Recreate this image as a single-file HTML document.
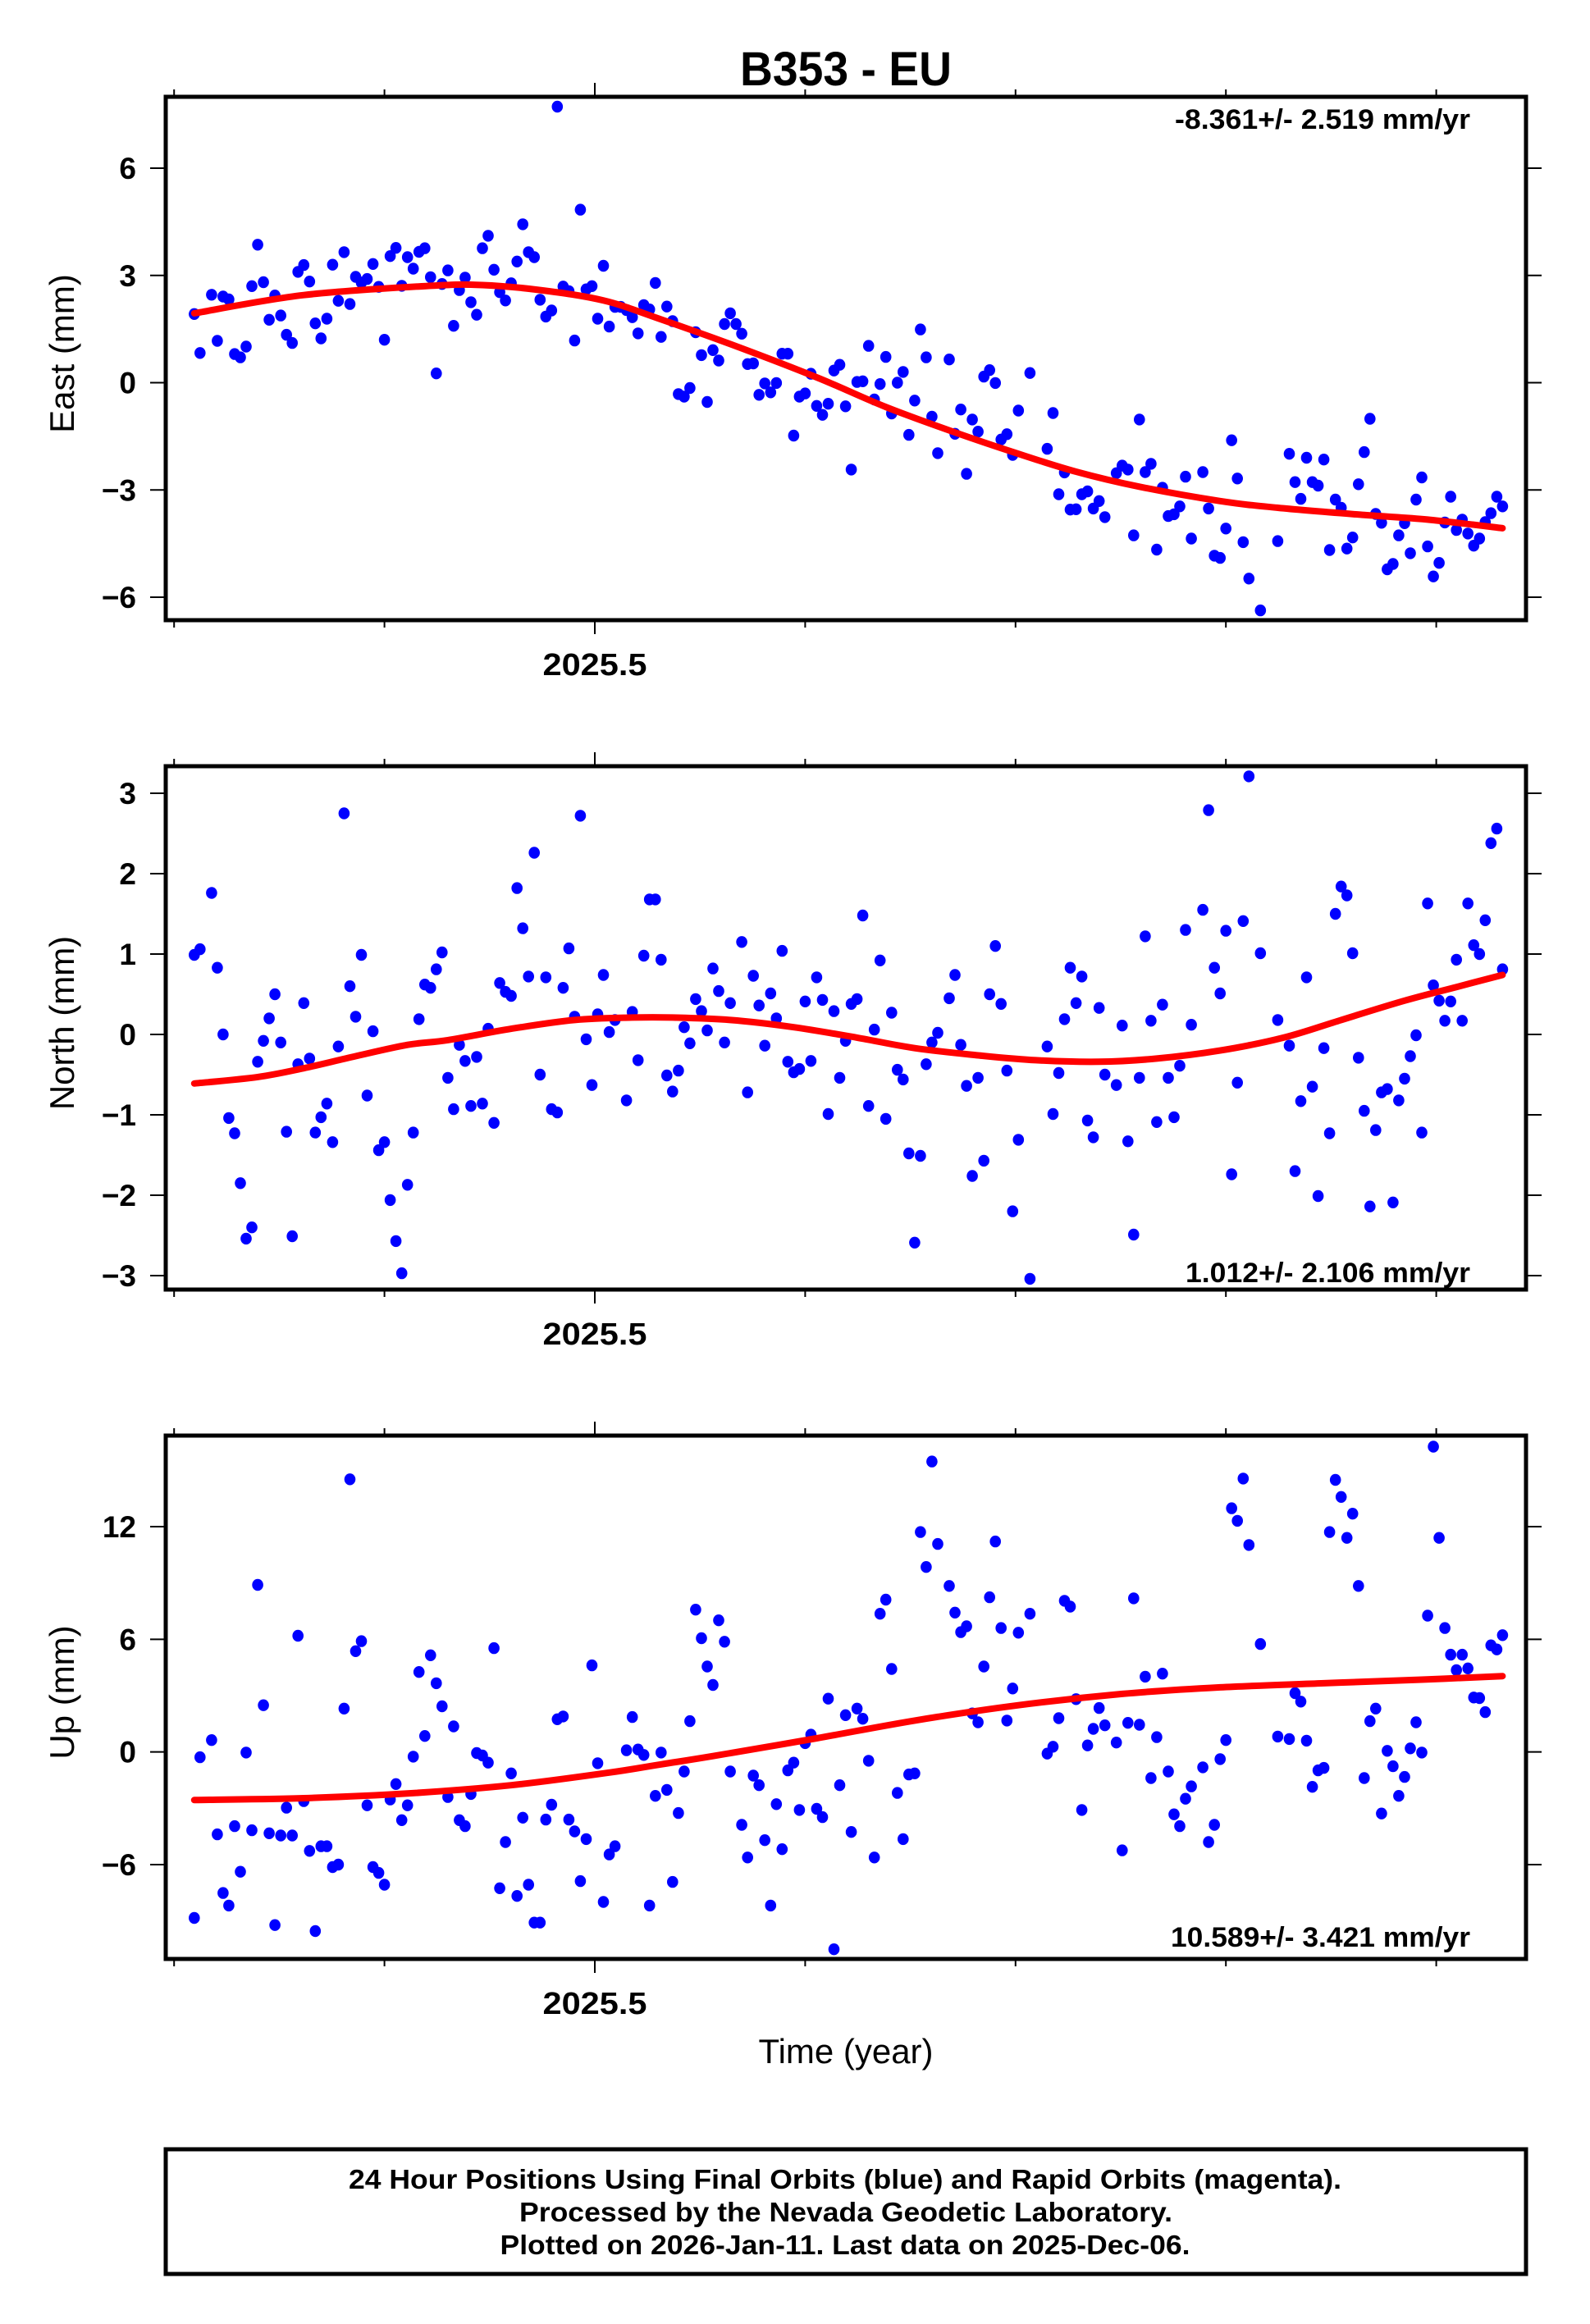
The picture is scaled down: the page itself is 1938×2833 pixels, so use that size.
<!DOCTYPE html>
<html><head><meta charset="utf-8"><title>B353 - EU</title>
<style>
html,body{margin:0;padding:0;background:#fff;}
svg{display:block;font-family:"Liberation Sans",Arial,sans-serif;}
</style></head>
<body>
<svg id="chart" width="1938" height="2833" viewBox="0 0 1938 2833" xmlns="http://www.w3.org/2000/svg">
<rect width="1938" height="2833" fill="#fff"/>
<text x="1031" y="104" text-anchor="middle" font-weight="bold" font-size="58" textLength="258" lengthAdjust="spacingAndGlyphs">B353 - EU</text>
<g id="panels"></g>
<text x="1031" y="2515" text-anchor="middle" font-size="42" textLength="213" lengthAdjust="spacingAndGlyphs">Time (year)</text>
<rect x="202" y="2620" width="1658" height="152" fill="none" stroke="#000" stroke-width="5"/>
<text x="1030" y="2668" text-anchor="middle" font-weight="bold" font-size="33" textLength="1210" lengthAdjust="spacingAndGlyphs">24 Hour Positions Using Final Orbits (blue) and Rapid Orbits (magenta).</text>
<text x="1031" y="2708" text-anchor="middle" font-weight="bold" font-size="33" textLength="796" lengthAdjust="spacingAndGlyphs">Processed by the Nevada Geodetic Laboratory.</text>
<text x="1030" y="2748" text-anchor="middle" font-weight="bold" font-size="33" textLength="841" lengthAdjust="spacingAndGlyphs">Plotted on 2026-Jan-11. Last data on 2025-Dec-06.</text>
</svg>
<script>
// ---- data (day-of-year 2025, values in mm) ----
const eastDays=[113,114,116,117,118,119,120,121,122,123,124,125,126,127,128,129,130,131,132,133,134,135,136,137,138,139,140,141,142,143,144,145,146,147,148,149,150,151,152,153,154,155,156,157,158,159,160,161,162,163,164,165,166,167,168,169,170,171,172,173,174,175,176,177,178,179,180,181,182,183,184,185,186,187,188,189,190,191,192,193,194,195,196,197,198,199,200,201,202,203,204,205,206,207,208,209,210,211,212,213,214,215,216,217,218,219,220,221,222,223,224,225,226,227,228,229,230,231,232,233,234,235,236,237,238,239,240,241,242,244,245,246,247,248,249,250,251,252,253,254,255,256,258,261,262,263,264,265,266,267,268,269,270,271,273,274,275,276,277,278,279,280,281,282,283,284,285,286,288,289,290,291,292,293,294,295,296,298,301,303,304,305,306,307,308,309,310,311,312,313,314,315,316,317,318,319,320,321,322,323,324,325,326,327,328,329,330,331,332,333,334,335,336,337,338,339,340];
const eastVals=[1.92,0.83,2.46,1.17,2.41,2.33,0.80,0.71,1.01,2.70,3.86,2.81,1.76,2.44,1.88,1.34,1.11,3.10,3.29,2.83,1.66,1.24,1.79,3.30,2.29,3.65,2.20,2.96,2.80,2.90,3.32,2.68,1.20,3.54,3.77,2.71,3.51,3.19,3.66,3.76,2.95,0.26,2.76,3.14,1.59,2.59,2.94,2.25,1.90,3.76,4.11,3.16,2.53,2.30,2.78,3.39,4.43,3.65,3.51,2.32,1.85,2.02,7.72,2.69,2.56,1.18,4.84,2.61,2.70,1.79,3.27,1.57,2.12,2.12,2.03,1.83,1.38,2.17,2.05,2.79,1.28,2.13,1.72,-0.32,-0.39,-0.15,1.41,0.77,-0.54,0.91,0.62,1.64,1.94,1.64,1.37,0.52,0.54,-0.34,-0.02,-0.27,-0.01,0.81,0.81,-1.48,-0.39,-0.30,0.25,-0.65,-0.90,-0.59,0.34,0.50,-0.66,-2.43,0.02,0.04,1.03,-0.47,-0.04,0.72,-0.86,0.00,0.30,-1.46,-0.50,1.49,0.71,-0.95,-1.97,0.65,-1.43,-0.75,-2.55,-1.03,-1.37,0.17,0.35,-0.01,-1.59,-1.44,-2.02,-0.78,0.27,-1.85,-0.85,-3.12,-2.51,-3.55,-3.54,-3.12,-3.04,-3.52,-3.31,-3.76,-2.53,-2.32,-2.43,-4.27,-1.03,-2.50,-2.27,-4.67,-2.94,-3.73,-3.68,-3.46,-2.63,-4.36,-2.50,-3.52,-4.84,-4.90,-4.08,-1.61,-2.68,-4.46,-5.48,-6.37,-4.43,-1.99,-2.78,-3.25,-2.10,-2.78,-2.88,-2.15,-4.68,-3.27,-3.50,-4.64,-4.33,-2.84,-1.94,-1.01,-3.67,-3.92,-5.22,-5.07,-4.27,-3.93,-4.77,-3.27,-2.65,-4.58,-5.42,-5.04,-3.91,-3.19,-4.12,-3.83,-4.22,-4.56,-4.36,-3.90,-3.65,-3.19,-3.46];
const eastFitDays=[113,132,154,163,173,184,194,207,221,233,245,256,266,277,291,301,316,327,340];
const eastFitVals=[1.94,2.45,2.71,2.73,2.59,2.30,1.77,1.02,0.15,-0.68,-1.39,-1.99,-2.49,-2.91,-3.31,-3.50,-3.70,-3.83,-4.07];

const northDays=[113,114,116,117,118,119,120,121,122,123,124,125,126,127,128,129,130,131,132,133,134,135,136,137,138,139,140,141,142,143,144,145,146,147,148,149,150,151,152,153,154,155,156,157,158,159,160,161,162,163,164,165,166,167,168,169,170,171,172,173,174,175,176,177,178,179,180,181,182,183,184,185,186,188,189,190,191,192,193,194,195,196,197,198,199,200,201,202,203,204,205,206,208,209,210,211,212,213,214,215,216,217,218,219,220,221,222,223,224,225,226,227,228,229,230,231,232,233,234,235,236,237,238,239,240,241,242,244,245,246,247,248,249,250,251,252,253,254,255,256,258,261,262,263,264,265,266,267,268,269,270,271,273,274,275,276,277,278,279,280,281,282,283,284,285,286,288,289,290,291,292,293,294,295,296,298,301,303,304,305,306,307,308,309,310,311,312,313,314,315,316,317,318,319,320,321,322,323,324,325,326,327,328,329,330,331,332,333,334,335,336,337,338,339,340];
const northVals=[0.99,1.06,1.76,0.83,0.00,-1.04,-1.23,-1.85,-2.54,-2.40,-0.34,-0.08,0.20,0.50,-0.10,-1.21,-2.51,-0.37,0.39,-0.30,-1.22,-1.03,-0.86,-1.34,-0.15,2.75,0.60,0.22,0.99,-0.76,0.04,-1.44,-1.34,-2.06,-2.57,-2.97,-1.87,-1.22,0.19,0.62,0.58,0.81,1.02,-0.54,-0.93,-0.13,-0.33,-0.89,-0.28,-0.86,0.07,-1.10,0.64,0.53,0.48,1.82,1.32,0.72,2.26,-0.50,0.71,-0.93,-0.97,0.58,1.07,0.22,2.72,-0.06,-0.63,0.25,0.74,0.03,0.18,-0.82,0.28,-0.32,0.98,1.68,1.68,0.93,-0.51,-0.71,-0.45,0.09,-0.11,0.44,0.29,0.05,0.82,0.54,-0.10,0.39,1.15,-0.72,0.73,0.36,-0.14,0.51,0.20,1.04,-0.34,-0.47,-0.43,0.41,-0.33,0.71,0.43,-0.99,0.29,-0.54,-0.08,0.38,0.44,1.48,-0.89,0.06,0.92,-1.05,0.27,-0.44,-0.56,-1.48,-2.59,-1.51,-0.37,-0.10,0.02,0.45,0.74,-0.13,-0.64,-1.76,-0.54,-1.57,0.50,1.10,0.38,-0.45,-2.20,-1.31,-3.04,-0.15,-0.99,-0.48,0.19,0.83,0.39,0.72,-1.07,-1.28,0.33,-0.50,-0.63,0.11,-1.33,-2.49,-0.54,1.22,0.17,-1.09,0.37,-0.54,-1.03,-0.39,1.30,0.12,1.55,2.79,0.83,0.51,1.29,-1.74,-0.60,1.41,3.21,1.01,0.18,-0.14,-1.70,-0.83,0.71,-0.65,-2.01,-0.17,-1.23,1.50,1.84,1.73,1.01,-0.29,-0.95,-2.14,-1.19,-0.72,-0.68,-2.09,-0.82,-0.55,-0.27,-0.01,-1.22,1.63,0.61,0.42,0.17,0.41,0.93,0.17,1.63,1.11,1.00,1.42,2.38,2.56,0.81];
const northFitDays=[113,124,132,141,150,157,168,179,189,196,206,217,228,238,249,259,270,280,291,302,312,323,332,340];
const northFitVals=[-0.61,-0.53,-0.42,-0.27,-0.13,-0.07,0.07,0.18,0.21,0.21,0.18,0.09,-0.04,-0.17,-0.26,-0.32,-0.34,-0.30,-0.20,-0.04,0.18,0.42,0.59,0.74];

const upDays=[113,114,116,117,118,119,120,121,122,123,124,125,126,127,128,129,130,131,132,133,134,135,136,137,138,139,140,141,142,143,144,145,146,147,148,149,150,151,152,153,154,155,156,157,158,159,160,161,162,163,164,165,166,167,168,169,170,171,172,173,174,175,176,177,178,179,180,181,182,183,184,185,186,188,189,190,191,192,193,194,195,196,197,198,199,200,201,202,203,204,205,206,208,209,210,211,212,213,214,215,216,217,218,219,220,221,222,223,224,225,226,227,228,229,230,231,232,233,234,235,236,237,238,239,240,241,242,244,245,246,247,248,249,250,251,252,253,254,255,256,258,261,262,263,264,265,266,267,268,269,270,271,273,274,275,276,277,278,279,280,281,282,283,284,285,286,288,289,290,291,292,293,294,295,296,298,301,303,304,305,306,307,308,309,310,311,312,313,314,315,316,317,318,319,320,321,322,323,324,325,326,327,328,329,330,331,332,333,334,335,336,337,338,339,340];
const upVals=[-8.84,-0.28,0.63,-4.39,-7.51,-8.18,-3.95,-6.38,-0.03,-4.17,8.90,2.49,-4.33,-9.22,-4.45,-2.97,-4.45,6.19,-2.62,-5.27,-9.54,-5.02,-5.02,-6.13,-6.00,2.31,14.52,5.37,5.90,-2.84,-6.13,-6.44,-7.07,-2.53,-1.71,-3.63,-2.84,-0.25,4.26,0.85,5.15,3.66,2.43,-2.40,1.36,-3.63,-3.95,-2.24,-0.06,-0.19,-0.57,5.53,-7.26,-4.80,-1.14,-7.67,-3.50,-7.07,-9.09,-9.09,-3.60,-2.81,1.74,1.89,-3.60,-4.23,-6.88,-4.64,4.61,-0.60,-7.99,-5.46,-5.02,0.09,1.86,0.13,-0.16,-8.18,-2.34,-0.03,-2.02,-6.92,-3.25,-1.04,1.64,7.58,6.06,4.55,3.57,7.01,5.87,-1.04,-3.88,-5.62,-1.26,-1.77,-4.70,-8.18,-2.78,-5.18,-0.98,-0.57,-3.09,0.47,0.92,-3.03,-3.47,2.84,-10.51,-1.77,1.96,-4.26,2.31,1.77,-0.47,-5.62,7.36,8.11,4.42,-2.18,-4.64,-1.20,-1.14,11.71,9.85,15.47,11.08,8.84,7.42,6.38,6.69,2.05,1.58,4.55,8.24,11.21,6.60,1.67,3.38,6.35,7.36,-0.09,0.28,1.80,8.05,7.74,2.81,-3.09,0.35,1.23,2.34,1.42,0.50,-5.24,1.55,8.18,1.45,4.01,-1.39,0.79,4.17,-1.04,-3.32,-3.95,-2.49,-1.83,-0.82,-4.80,-3.88,-0.38,0.63,12.98,12.31,14.56,11.02,5.75,0.82,0.69,3.13,2.68,0.60,-1.86,-0.98,-0.85,11.71,14.49,13.58,11.40,12.69,8.84,-1.39,1.64,2.31,-3.28,0.06,-0.76,-2.34,-1.33,0.19,1.58,-0.03,7.26,16.26,11.40,6.60,5.18,4.36,5.18,4.45,2.90,2.87,2.12,5.68,5.46,6.22];
const upFitDays=[113,132,150,168,185,194,203,221,238,256,274,291,309,326,340];
const upFitVals=[-2.56,-2.46,-2.21,-1.77,-1.10,-0.66,-0.22,0.73,1.67,2.49,3.09,3.44,3.66,3.85,4.04];

const eastTicks=[6,3,0,-3,-6];
const northTicks=[3,2,1,0,-1,-2,-3];
const upTicks=[12,6,0,-6];
const tickLabels={6:"6",3:"3",2:"2",1:"1",0:"0","-1":"\u22121","-2":"\u22122","-3":"\u22123","-6":"\u22126",12:"12"};
const xTickYears=[2025.3,2025.4,2025.5,2025.6,2025.7,2025.8,2025.9];
const xLabelYears=[2025.5];
const rates=["-8.361+/- 2.519 mm/yr","1.012+/- 2.106 mm/yr","10.589+/- 3.421 mm/yr"];

// ---- layout ----
const NS="http://www.w3.org/2000/svg";
const L=202,R=1860;
function xYear(t){return 725+(t-2025.5)*2564;}
function xDay(d){return xYear(2025+d/365);}
function mk(tag,attrs,parent){const e=document.createElementNS(NS,tag);for(const k in attrs)e.setAttribute(k,attrs[k]);parent.appendChild(e);return e;}

const panels=[
 {key:"east",title:"East (mm)",top:118,bot:756,v1:6,y1:205,v2:-6,y2:728,ticks:eastTicks,days:eastDays,vals:eastVals,fd:eastFitDays,fv:eastFitVals,rate:rates[0],rateY:157,rateW:360},
 {key:"north",title:"North (mm)",top:934,bot:1572,v1:3,y1:967,v2:-3,y2:1555,ticks:northTicks,days:northDays,vals:northVals,fd:northFitDays,fv:northFitVals,rate:rates[1],rateY:1563,rateW:347},
 {key:"up",title:"Up (mm)",top:1750,bot:2388,v1:12,y1:1861,v2:-6,y2:2273,ticks:upTicks,days:upDays,vals:upVals,fd:upFitDays,fv:upFitVals,rate:rates[2],rateY:2373,rateW:365}
];
const root=document.getElementById('panels');
panels.forEach(p=>{
 const yS=v=>p.y1+(v-p.v1)*(p.y2-p.y1)/(p.v2-p.v1);
 const g=mk('g',{},root);
 
 
 const clipId='clip-'+p.key;
 const cp=mk('clipPath',{id:clipId},g);
 mk('rect',{x:L,y:p.top,width:R-L,height:p.bot-p.top},cp);
 const pts=mk('g',{'clip-path':'url(#'+clipId+')'},g);
 
 
 p.days.forEach((d,i)=>{
  const c=mk('ellipse',{cx:xDay(d).toFixed(1),cy:yS(p.vals[i]).toFixed(1),rx:6.8,ry:7.2,fill:'#0000ff'},pts);
  
  
 });
 const P=p.fd.map((d,i)=>[xDay(d),yS(p.fv[i])]);
 let path='M'+P[0][0].toFixed(1)+','+P[0][1].toFixed(1);
 for(let i=0;i<P.length-1;i++){
  const p0=P[Math.max(0,i-1)],p1=P[i],p2=P[i+1],p3=P[Math.min(P.length-1,i+2)];
  const c1=[p1[0]+(p2[0]-p0[0])/6,p1[1]+(p2[1]-p0[1])/6];
  const c2=[p2[0]-(p3[0]-p1[0])/6,p2[1]-(p3[1]-p1[1])/6];
  path+=' C'+c1.map(n=>n.toFixed(1))+' '+c2.map(n=>n.toFixed(1))+' '+p2.map(n=>n.toFixed(1));
 }
 const fit=mk('path',{d:path,fill:'none',stroke:'#ff0000','stroke-width':8,'stroke-linecap':'round'},g);
 
 
 const fr=mk('rect',{x:L,y:p.top,width:R-L,height:p.bot-p.top,fill:'none',stroke:'#000','stroke-width':5},g);
 
 
 p.ticks.forEach(v=>{
  const y=yS(v);
  mk('line',{x1:L-19,y1:y,x2:L,y2:y,stroke:'#000','stroke-width':2},g);
  mk('line',{x1:R,y1:y,x2:R+19,y2:y,stroke:'#000','stroke-width':2},g);
  const t=mk('text',{x:166,y:y+13,'text-anchor':'end','font-weight':'bold','font-size':37},g);
  
  
  t.textContent=tickLabels[v];
 });
 xTickYears.forEach(ty=>{
  const x=xYear(ty);
  const major=xLabelYears.some(m=>Math.abs(m-ty)<1e-6);
  const len=major?17:9;
  mk('line',{x1:x,y1:p.top-len,x2:x,y2:p.top,stroke:'#000','stroke-width':2},g);
  mk('line',{x1:x,y1:p.bot,x2:x,y2:p.bot+len,stroke:'#000','stroke-width':2},g);
 });
 xLabelYears.forEach(ty=>{
  const t=mk('text',{x:xYear(ty),y:p.bot+67,'text-anchor':'middle','font-weight':'bold','font-size':38,textLength:127,lengthAdjust:'spacingAndGlyphs'},g);
  
  
  t.textContent=ty.toFixed(1);
 });
 const cy=(p.top+p.bot)/2-6;
 const yt=mk('text',{x:0,y:0,'text-anchor':'middle','font-size':42,transform:'translate(90,'+cy+') rotate(-90)'},g);
 
 
 yt.textContent=p.title;
 const rt=mk('text',{x:1792,y:p.rateY,'text-anchor':'end','font-weight':'bold','font-size':34,textLength:p.rateW,lengthAdjust:'spacingAndGlyphs'},g);
 
 
 rt.textContent=p.rate;
});
</script>
</body></html>
